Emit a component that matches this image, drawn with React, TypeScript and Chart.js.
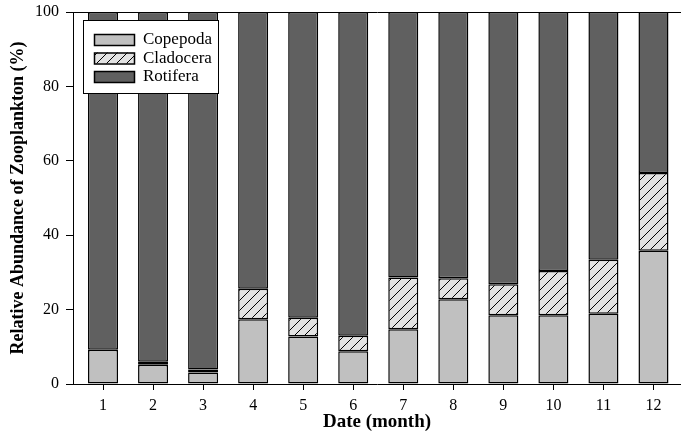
import React, { useEffect, useRef } from 'react';
import { Chart, registerables } from 'chart.js';

Chart.register(...registerables);

const months = [1, 2, 3, 4, 5, 6, 7, 8, 9, 10, 11, 12];
const copepoda = [9.2, 5.2, 3.1, 17.4, 12.8, 8.8, 14.7, 22.8, 18.5, 18.5, 18.9, 35.8];
const cladocera = [0, 0.8, 0.8, 8.2, 5.0, 4.2, 13.9, 5.6, 8.3, 11.9, 14.5, 20.9];
const rotifera = [90.8, 94.0, 96.1, 74.4, 82.2, 87.0, 71.4, 71.6, 73.2, 69.6, 66.6, 43.3];
const yTicks = [0, 20, 40, 60, 80, 100];
const seriesNames = ['Copepoda', 'Cladocera', 'Rotifera'];

const FONT = "'Liberation Serif', 'Times New Roman', serif";

function makeHatch(): CanvasPattern | string {
  const c = document.createElement('canvas');
  const s = 10;
  c.width = s;
  c.height = s;
  const g = c.getContext('2d');
  if (!g) return '#e2e2e2';
  g.fillStyle = '#e2e2e2';
  g.fillRect(0, 0, s, s);
  g.strokeStyle = '#000';
  g.lineWidth = 1;
  g.beginPath();
  g.moveTo(0, s);
  g.lineTo(s, 0);
  g.moveTo(-s / 2, s / 2);
  g.lineTo(s / 2, -s / 2);
  g.moveTo(s / 2, s * 1.5);
  g.lineTo(s * 1.5, s / 2);
  g.stroke();
  const p = g.createPattern(c, 'repeat');
  return p || '#e2e2e2';
}

const legendPlugin = {
  id: 'boxLegend',
  afterDraw(chart: any) {
    const ctx = chart.ctx;
    const area = chart.chartArea;
    const bx = area.left + 10;
    const by = area.top + 8;
    const bw = 135;
    const bh = 73;
    ctx.save();
    ctx.fillStyle = '#fff';
    ctx.fillRect(bx, by, bw, bh);
    ctx.strokeStyle = '#000';
    ctx.lineWidth = 1;
    ctx.strokeRect(bx + 0.5, by + 0.5, bw, bh);
    chart.data.datasets.forEach((ds: any, i: number) => {
      const cy = by + 19 + i * 18.5;
      const sx = bx + 11;
      ctx.fillStyle = ds.backgroundColor;
      ctx.fillRect(sx, cy - 5, 40, 11);
      ctx.strokeStyle = '#000';
      ctx.lineWidth = 1.5;
      ctx.strokeRect(sx + 0.5, cy - 5 + 0.5, 40, 11);
      ctx.fillStyle = '#000';
      ctx.font = `17px ${FONT}`;
      ctx.textBaseline = 'middle';
      ctx.textAlign = 'left';
      ctx.fillText(ds.label, sx + 49, cy + 1);
    });
    ctx.restore();
  },
};

export default function App() {
  const ref = useRef<HTMLCanvasElement | null>(null);

  useEffect(() => {
    if (!ref.current) return;
    const hatch = makeHatch();
    const colors: any[] = ['#c0c0c0', hatch, '#606060'];
    const values = [copepoda, cladocera, rotifera];
    const chart = new Chart(ref.current, {
      type: 'bar',
      data: {
        datasets: values.map((vals, k) => ({
          label: seriesNames[k],
          data: months.map((m, i) => ({ x: m, y: vals[i] })),
          backgroundColor: colors[k],
          borderColor: '#000',
          borderWidth: 1.5,
          borderSkipped: false,
          barPercentage: 0.6,
          categoryPercentage: 1,
        })),
      },
      options: {
        responsive: false,
        animation: false,
        layout: { padding: 0 },
        plugins: {
          legend: { display: false },
          tooltip: { enabled: false },
        },
        scales: {
          x: {
            type: 'linear',
            position: 'bottom',
            min: 0.4,
            max: 12.55,
            stacked: true,
            offset: false,
            afterBuildTicks: (s: any) => {
              s.ticks = months.map((v) => ({ value: v }));
            },
            afterFit: (s: any) => {
              s.height = 52;
            },
            ticks: {
              color: '#000',
              font: { family: FONT, size: 16 },
              padding: 6,
              autoSkip: false,
              maxRotation: 0,
              callback: (v: any) => String(v),
            },
            grid: {
              drawOnChartArea: false,
              drawTicks: true,
              tickLength: 6,
              color: '#000',
              offset: false,
            },
            border: { color: '#000', width: 1 },
            title: {
              display: true,
              text: 'Date (month)',
              color: '#000',
              font: { family: FONT, size: 19, weight: 'bold' },
              padding: { top: 0, bottom: 3 },
            },
          },
          x2: {
            type: 'linear',
            position: 'top',
            min: 0.4,
            max: 12.55,
            ticks: { display: false },
            grid: { display: false },
            border: { display: true, color: '#000', width: 1 },
            afterFit: (s: any) => {
              s.height = 12;
            },
          },
          y: {
            min: 0,
            max: 100,
            stacked: true,
            afterBuildTicks: (s: any) => {
              s.ticks = yTicks.map((v) => ({ value: v }));
            },
            afterFit: (s: any) => {
              s.width = 73;
            },
            ticks: {
              color: '#000',
              font: { family: FONT, size: 16, lineHeight: 0.5 },
              padding: 7,
            },
            grid: {
              drawOnChartArea: false,
              drawTicks: true,
              tickLength: 7,
              color: '#000',
            },
            border: { color: '#000', width: 1 },
            title: {
              display: true,
              text: 'Relative Abundance of Zooplankton (%)',
              color: '#000',
              font: { family: FONT, size: 18, weight: 'bold' },
              padding: { top: 8, bottom: 0 },
            },
          },
        },
      } as any,
      plugins: [legendPlugin],
    });
    return () => chart.destroy();
  }, []);

  return (
    <div style={{ position: 'fixed', left: 0, top: 0, width: 681, height: 436, background: '#fff' }}>
      <canvas ref={ref} width={681} height={436} />
    </div>
  );
}
